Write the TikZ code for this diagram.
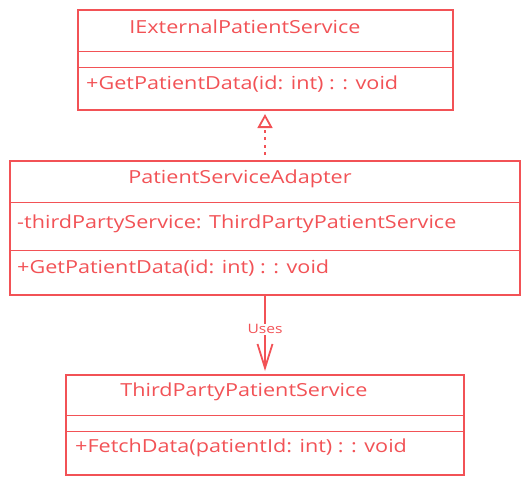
\documentclass[tikz,border=0pt]{standalone}
\usepackage{fontspec}
\setmainfont{Open Sans}
\newfontfamily\hand[FakeStretch=1.2]{Open Sans}
\usetikzlibrary{arrows.meta}
\definecolor{umlred}{RGB}{242,82,86}
\tikzset{
  box/.style={draw=umlred, line width=1.4pt, fill=white},
  sep/.style={draw=umlred, line width=1pt},
  txt/.style={text=umlred, font=\hand\fontsize{18}{20}\selectfont, inner sep=0pt},
  ttl/.style={txt, anchor=center},
  mem/.style={txt, anchor=west},
  conn/.style={draw=umlred, line width=1.8pt},
}
\begin{document}
\begin{tikzpicture}[x=1pt,y=-1pt]
\useasboundingbox (0,0) rectangle (531,485);
% Box 1
\path[box] (78,10) rectangle (453,110);
\draw[sep] (78,51) -- (453,51);
\draw[sep] (78,67) -- (453,67);
\node[ttl] (t1) at (245,27) {IExternalPatientService};
\node[mem] (m1) at (86,84) {+GetPatientData(id: int) : : void};
\coordinate (b1) at (265,110);
% Box 2
\path[box] (10,161) rectangle (520,295);
\draw[sep] (10,202) -- (520,202);
\draw[sep] (10,250) -- (520,250);
\node[ttl] (t2) at (240,179) {PatientServiceAdapter};
\node[mem] (a2) at (17,224) {-thirdPartyService: ThirdPartyPatientService};
\node[mem] (m2) at (17,268) {+GetPatientData(id: int) : : void};
\coordinate (top2) at (265,161);
\coordinate (bot2) at (265,295);
% Box 3
\path[box] (66,375) rectangle (464,475);
\draw[sep] (66,415) -- (464,415);
\draw[sep] (66,431) -- (464,431);
\node[ttl] (t3) at (244,392) {ThirdPartyPatientService};
\node[mem] (m3) at (75,448) {+FetchData(patientId: int) : : void};
\coordinate (top3) at (265,375);
% Connectors
\draw[conn, dash pattern=on 3pt off 4.5pt, shorten >=4pt, shorten <=6pt,
  -{Triangle[open,length=14pt,width=15pt,fill=white,line width=1.8pt]}] (top2) -- (b1);
\draw[conn, shorten >=4pt, -{Straight Barb[length=24pt,width=15pt,line width=1.8pt]}] (bot2) -- node[fill=white, text=umlred, font=\hand\fontsize{13}{15}\selectfont, inner sep=1pt, pos=0.43] (uses) {Uses} (top3);
\end{tikzpicture}
\end{document}
